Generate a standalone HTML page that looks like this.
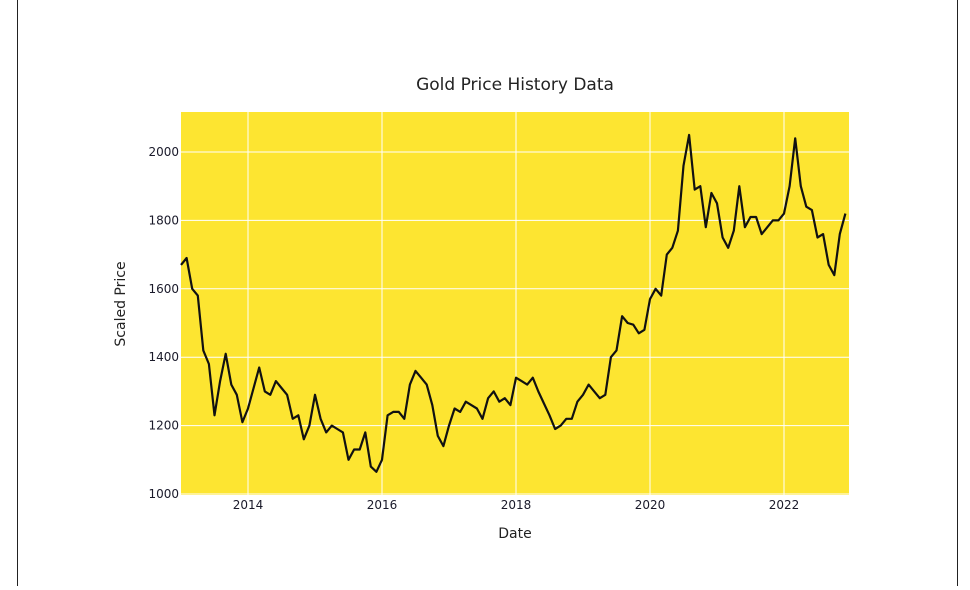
<!DOCTYPE html>
<html><head><meta charset="utf-8"><style>
body{margin:0;background:#fff;width:970px;height:586px;overflow:hidden;font-family:"DejaVu Sans","Liberation Sans",sans-serif}
</style></head><body>
<svg width="970" height="586" xmlns="http://www.w3.org/2000/svg">
<line x1="17.5" y1="0" x2="17.5" y2="586" stroke="#222"/>
<line x1="957.5" y1="0" x2="957.5" y2="586" stroke="#222"/>
<rect x="181" y="112" width="668" height="383" fill="#fde531"/>
<g id="grid"></g>
<path id="line" fill="none" stroke="#111" stroke-width="2.2" stroke-linejoin="round"/>
<g id="ticks" font-size="12" fill="#1a1a2a"></g>
<text x="515" y="90" text-anchor="middle" font-size="17" fill="#222">Gold Price History Data</text>
<text x="515" y="538" text-anchor="middle" font-size="14" fill="#222">Date</text>
<text x="125" y="304" text-anchor="middle" font-size="14" fill="#222" transform="rotate(-90 125 304)">Scaled Price</text>
</svg>
<script>
const xTicks=[2014,2016,2018,2020,2022];
const yTicks=[1000,1200,1400,1600,1800,2000];
const startYear=2013;
const prices=[
1670,1690,1600,1580,1420,1380,1230,1330,1410,1320,1290,1210,
1250,1310,1370,1300,1290,1330,1310,1290,1220,1230,1160,1200,
1290,1220,1180,1200,1190,1180,1100,1130,1130,1180,1080,1065,
1100,1230,1240,1240,1220,1320,1360,1340,1320,1260,1170,1140,
1200,1250,1240,1270,1260,1250,1220,1280,1300,1270,1280,1260,
1340,1330,1320,1340,1300,1265,1230,1190,1200,1220,1220,1270,
1290,1320,1300,1280,1290,1400,1420,1520,1500,1495,1470,1480,
1570,1600,1580,1700,1720,1770,1960,2050,1890,1900,1780,1880,
1850,1750,1720,1770,1900,1780,1810,1810,1760,1780,1800,1800,
1820,1900,2040,1900,1840,1830,1750,1760,1670,1640,1760,1820];
const X0=181,X1=849,Y0=495,Y1=112;
const x=t=>X0+(t-startYear)*67;
const y=v=>494-(v-1000)*0.342;
const ns="http://www.w3.org/2000/svg";
const grid=document.getElementById('grid'),ticks=document.getElementById('ticks');
xTicks.forEach(t=>{
 const l=document.createElementNS(ns,'line');
 l.setAttribute('x1',x(t));l.setAttribute('x2',x(t));l.setAttribute('y1',Y1);l.setAttribute('y2',Y0);
 l.setAttribute('stroke','#fff');l.setAttribute('stroke-width','1');
 
 
 grid.appendChild(l);
 const tx=document.createElementNS(ns,'text');
 tx.setAttribute('x',x(t));tx.setAttribute('y',509);tx.setAttribute('text-anchor','middle');tx.textContent=t;
 
 
 ticks.appendChild(tx);
});
yTicks.forEach(v=>{
 const l=document.createElementNS(ns,'line');
 l.setAttribute('x1',X0);l.setAttribute('x2',X1);l.setAttribute('y1',y(v));l.setAttribute('y2',y(v));
 l.setAttribute('stroke','#fff');l.setAttribute('stroke-width','1');
 
 
 grid.appendChild(l);
 const tx=document.createElementNS(ns,'text');
 tx.setAttribute('x',179);tx.setAttribute('y',y(v)+4);tx.setAttribute('text-anchor','end');tx.textContent=v;
 
 
 ticks.appendChild(tx);
});
let d='';
prices.forEach((p,i)=>{d+=(i?'L':'M')+x(startYear+i/12).toFixed(1)+','+y(p).toFixed(1);});
document.getElementById('line').setAttribute('d',d);
</script>
</body></html>
